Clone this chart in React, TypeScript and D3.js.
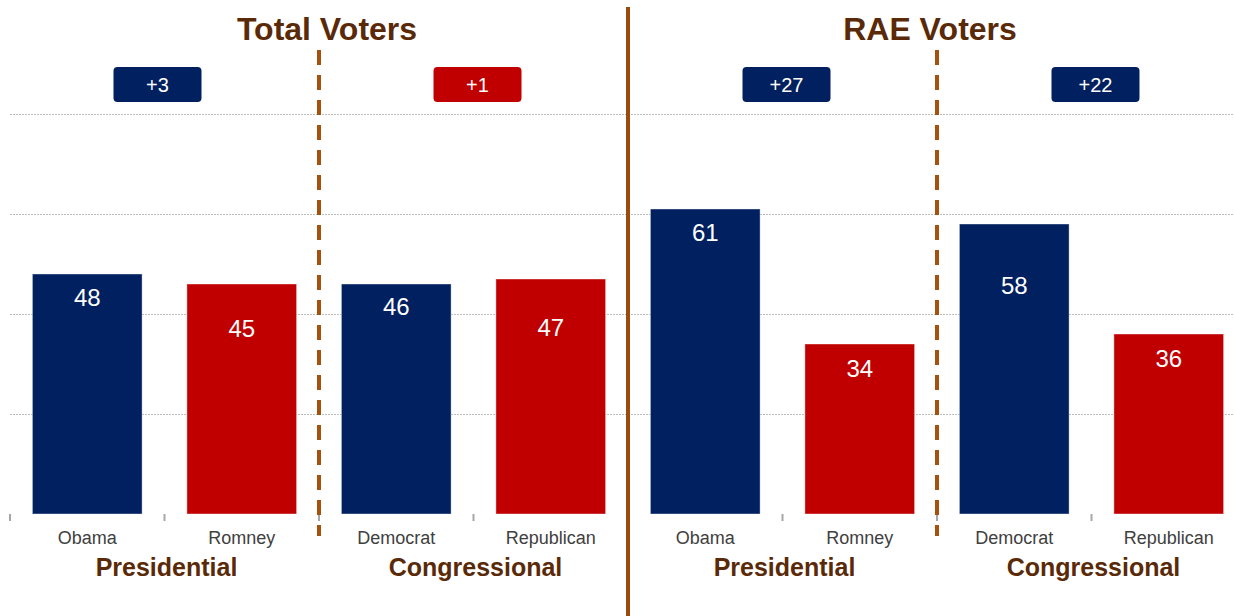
import React from "react";
import * as d3 from "d3";

const categories = ["Obama", "Romney", "Democrat", "Republican", "Obama", "Romney", "Democrat", "Republican"];
// bar heights as drawn in the picture
const values = [48, 46, 46, 47, 61, 34, 58, 36];
// value labels as printed on the bars
const valueLabels = ["48", "45", "46", "47", "61", "34", "58", "36"];
const parties = ["D", "R", "D", "R", "D", "R", "D", "R"];
const groupLabels = ["Presidential", "Congressional", "Presidential", "Congressional"];
const marginLabels = ["+3", "+1", "+27", "+22"];
const marginParties = ["D", "R", "D", "D"];
const panelTitles = ["Total Voters", "RAE Voters"];
const gridTicks = [20, 40, 60, 80];
// vertical drop of each value label below its bar top (px)
const labelDrop = [32, 53, 31, 57, 32, 33, 70, 33];

const W = 1234;
const H = 616;
const NAVY = "#002060";
const RED = "#C00000";
const BROWN_TXT = "#5A2A08";
const BROWN_LINE = "#9C4A0E";

export default function App() {
  const x = d3
    .scaleBand<number>()
    .domain(d3.range(categories.length))
    .range([10, 1246])
    .paddingInner(0.29)
    .paddingOuter(0.145);
  const y = d3.scaleLinear().domain([0, 100]).range([514, 14]);
  const step = x.step();
  const x0 = 10;
  const boundary = (k: number) => x0 + k * step;
  const fill = (p: string) => (p === "D" ? NAVY : RED);
  const font = "'Liberation Sans', Arial, Helvetica, sans-serif";
  const boxShift = [-7, 4, 4, 4];

  return (
    <svg
      width={W}
      height={H}
      style={{ position: "absolute", left: 0, top: 0, background: "#fff" }}
      fontFamily={font}
    >
      {/* gridlines */}
      {gridTicks.map((t) => (
        <line
          key={t}
          x1={10}
          x2={W}
          y1={Math.round(y(t)) + 0.5}
          y2={Math.round(y(t)) + 0.5}
          stroke="#bdbdbd"
          strokeWidth={1}
          strokeDasharray="2,1"
        />
      ))}
      {/* ticks */}
      {d3.range(0, 9).map((k) => (
        <line
          key={k}
          x1={boundary(k)}
          x2={boundary(k)}
          y1={y(0)}
          y2={y(0) + 7}
          stroke="#a6a6a6"
          strokeWidth={2}
        />
      ))}
      {/* bars */}
      {values.map((v, i) => (
        <g key={i}>
          <rect
            x={x(i)}
            y={y(v)}
            width={x.bandwidth()}
            height={y(0) - y(v)}
            fill={fill(parties[i])}
            stroke="#ffffff"
            strokeOpacity={0.4}
            strokeWidth={1}
          />
          <text
            x={(x(i) as number) + x.bandwidth() / 2}
            y={y(v) + labelDrop[i]}
            fill="#fff"
            fontSize={24}
            textAnchor="middle"
          >
            {valueLabels[i]}
          </text>
          <text
            x={(x(i) as number) + x.bandwidth() / 2}
            y={544}
            fill="#404040"
            fontSize={18}
            textAnchor="middle"
          >
            {categories[i]}
          </text>
        </g>
      ))}
      {/* group labels & margin boxes */}
      {groupLabels.map((g, j) => {
        const cx = boundary(2 * j + 1);
        return (
          <g key={j}>
            <text
              x={cx + 2}
              y={576}
              fill={BROWN_TXT}
              fontSize={25}
              fontWeight="bold"
              textAnchor="middle"
            >
              {g}
            </text>
            <rect
              x={cx - 44 + boxShift[j]}
              y={67}
              width={88}
              height={35}
              rx={4}
              fill={fill(marginParties[j])}
            />
            <text
              x={cx + boxShift[j]}
              y={92}
              fill="#fff"
              fontSize={20}
              textAnchor="middle"
            >
              {marginLabels[j]}
            </text>
          </g>
        );
      })}
      {/* dashed separators */}
      {[2, 6].map((k) => (
        <line
          key={k}
          x1={boundary(k)}
          x2={boundary(k)}
          y1={50}
          y2={536}
          stroke="#A5520F"
          strokeWidth={4}
          strokeDasharray="15,10"
        />
      ))}
      {/* solid separator */}
      <line x1={boundary(4)} x2={boundary(4)} y1={7} y2={H} stroke={BROWN_LINE} strokeWidth={4} />
      {/* panel titles */}
      {panelTitles.map((t, j) => (
        <text
          key={t}
          x={j === 0 ? 327 : 930}
          y={40}
          fill={BROWN_TXT}
          fontSize={32}
          fontWeight="bold"
          textAnchor="middle"
        >
          {t}
        </text>
      ))}
    </svg>
  );
}
